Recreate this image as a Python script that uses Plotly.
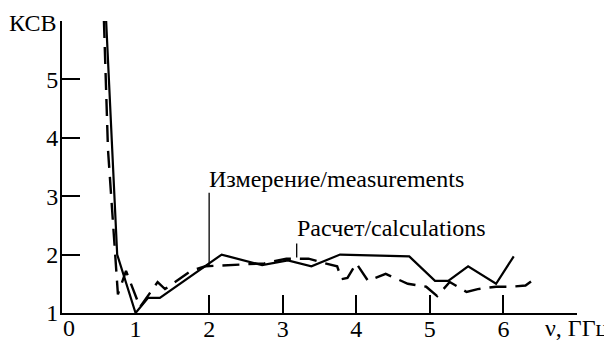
import plotly.graph_objects as go

# Measurement (solid)
meas_x = [0.60, 0.75, 1.00, 1.17, 1.33, 1.88, 2.17, 2.72, 3.07, 3.39, 3.78, 4.72, 5.07, 5.25, 5.52, 5.90, 6.14]
meas_y = [6.00, 2.00, 1.00, 1.26, 1.26, 1.75, 2.00, 1.82, 1.90, 1.80, 2.00, 1.97, 1.55, 1.55, 1.80, 1.50, 1.97]

# Calculation (dashed)
calc_x = [0.57, 0.625, 0.76, 0.87, 1.06, 1.30, 1.40, 1.75, 1.95, 2.30, 2.75, 3.05, 3.35, 3.55, 3.74, 3.80, 3.88, 4.00, 4.16, 4.40, 4.70, 4.95, 5.10, 5.27, 5.50, 5.65, 5.90, 6.10, 6.30, 6.45]
calc_y = [6.00, 3.80, 1.32, 1.72, 1.10, 1.53, 1.41, 1.72, 1.80, 1.82, 1.85, 1.93, 1.93, 1.86, 1.80, 1.58, 1.60, 1.85, 1.55, 1.67, 1.50, 1.45, 1.29, 1.53, 1.36, 1.41, 1.45, 1.45, 1.47, 1.61]

x_label_vals = [1, 2, 3, 4, 5, 6]
x_tick_vals = [2, 3, 4, 5, 6]
y_label_vals = [1, 2, 3, 4, 5]
y_tick_vals = [2, 3, 4, 5]

meas_label = "Измерение/measurements"
calc_label = "Расчет/calculations"
# leader lines: x, y_top, y_bottom (data units)
meas_leader = (2.0, 3.06, 1.82)
calc_leader = (3.19, 2.19, 1.95)
# label anchor heights (data units)
meas_label_y = 3.29
calc_label_y = 2.45

FONT = "'Liberation Serif', 'Times New Roman', Times, 'DejaVu Serif', serif"
FS = 24

fig = go.Figure()
fig.add_trace(go.Scatter(x=meas_x, y=meas_y, mode="lines",
                         line=dict(color="black", width=2.2), showlegend=False))
fig.add_trace(go.Scatter(x=calc_x, y=calc_y, mode="lines",
                         line=dict(color="black", width=2.4, dash="17px,9px"), showlegend=False))
fig.add_trace(go.Scatter(x=[0], y=[1], xaxis="x2", mode="markers",
                         marker=dict(opacity=0), showlegend=False, hoverinfo="skip"))
fig.add_trace(go.Scatter(x=[0], y=[1], yaxis="y2", mode="markers",
                         marker=dict(opacity=0), showlegend=False, hoverinfo="skip"))

for (lx, y0, y1) in [meas_leader, calc_leader]:
    fig.add_shape(type="line", x0=lx, x1=lx, y0=y0, y1=y1, xref="x", yref="y",
                  line=dict(color="black", width=1.3))

fig.add_annotation(x=meas_leader[0], y=meas_label_y, xref="x", yref="y", text=meas_label,
                   showarrow=False, xanchor="left", yanchor="middle", xshift=-2,
                   font=dict(family=FONT, size=FS, color="black"))
fig.add_annotation(x=calc_leader[0], y=calc_label_y, xref="x", yref="y", text=calc_label,
                   showarrow=False, xanchor="left", yanchor="middle", xshift=-2,
                   font=dict(family=FONT, size=FS, color="black"))
fig.add_annotation(x=0, y=1, xref="paper", yref="paper", text="КСВ", showarrow=False,
                   xanchor="right", yanchor="middle", xshift=-4, yshift=-2,
                   font=dict(family=FONT, size=FS, color="black"))
fig.add_annotation(x=0, y=0, xref="paper", yref="paper", text="0", showarrow=False,
                   xanchor="center", yanchor="top", xshift=7, yshift=0,
                   font=dict(family=FONT, size=FS, color="black"))
fig.add_annotation(x=1, y=0, xref="paper", yref="paper", text="ν, ГГц", showarrow=False,
                   xanchor="left", yanchor="top", xshift=-34, yshift=0,
                   font=dict(family=FONT, size=FS, color="black"))

# page body has an 8px margin; margins below compensate so the plot area sits
# at x 62..577, y 21..313 of the 612x340 window
fig.update_layout(
    width=612, height=340,
    margin=dict(l=54, r=43, t=13, b=35, autoexpand=False),
    paper_bgcolor="white", plot_bgcolor="white",
    font=dict(family=FONT, size=FS, color="black"),
    xaxis=dict(range=[0, 7], tickvals=x_label_vals, ticktext=[str(v) for v in x_label_vals],
               ticks="", showgrid=False, zeroline=False, showline=True, linecolor="black",
               linewidth=2, automargin=False, ticklabelstandoff=-7,
               tickfont=dict(family=FONT, size=FS)),
    xaxis2=dict(range=[0, 7], overlaying="x", side="bottom", anchor="y", tickvals=x_tick_vals,
                ticks="inside", ticklen=18, tickwidth=1.5, tickcolor="black", automargin=False,
                showticklabels=False, showgrid=False, zeroline=False, showline=False),
    yaxis=dict(range=[1, 6], tickvals=y_label_vals, ticktext=[str(v) for v in y_label_vals],
               ticks="", showgrid=False, zeroline=False, showline=True, linecolor="black",
               linewidth=2, automargin=False, ticklabelstandoff=-3,
               tickfont=dict(family=FONT, size=FS)),
    yaxis2=dict(range=[1, 6], overlaying="y", anchor="x", tickvals=y_tick_vals,
                ticks="inside", ticklen=18, tickwidth=1.5, tickcolor="black", automargin=False,
                showticklabels=False, showgrid=False, zeroline=False, showline=False),
)

fig.write_html("out.html")
